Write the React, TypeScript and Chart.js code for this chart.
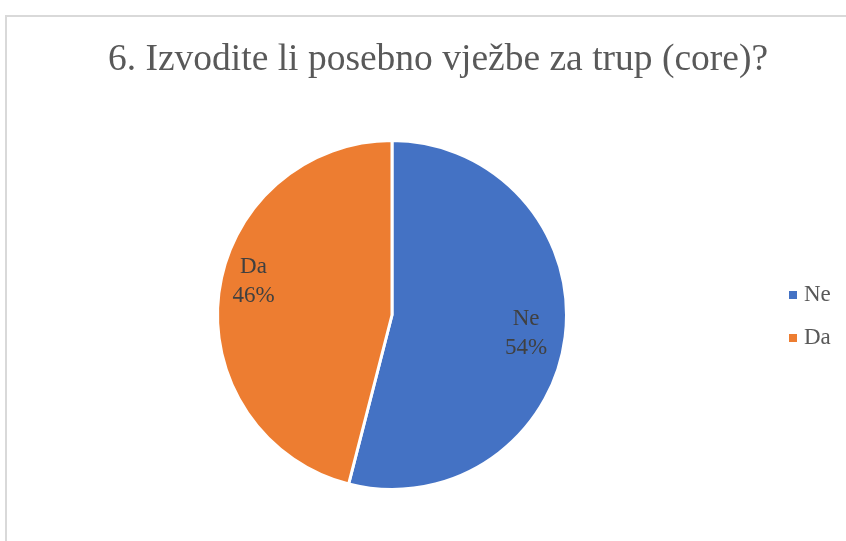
import React, { useEffect, useRef } from "react";
import { Chart, registerables } from "chart.js";

Chart.register(...registerables);

const title = "6. Izvodite li posebno vježbe za trup (core)?";
const categories = ["Ne", "Da"];
const values = [54, 46];
const colors = ["#4472C4", "#ED7D31"];
const labelRadius = [0.775, 0.8];
const labelDy = [0, -18];

const SERIF = "'Liberation Serif', 'Times New Roman', serif";

const overlayPlugin = {
  id: "overlay",
  afterDraw(chart: any) {
    const ctx = chart.ctx;
    const meta = chart.getDatasetMeta(0);
    const total = values.reduce((a, b) => a + b, 0);
    ctx.save();
    // title
    ctx.fillStyle = "#595959";
    ctx.font = `37.5px ${SERIF}`;
    ctx.textAlign = "center";
    ctx.textBaseline = "alphabetic";
    ctx.fillText(title, 438, 70);
    // data labels
    ctx.fillStyle = "#404040";
    ctx.font = `23px ${SERIF}`;
    meta.data.forEach((arc: any, i: number) => {
      const p = arc.getProps(["x", "y", "startAngle", "endAngle", "outerRadius"], true);
      const mid = (p.startAngle + p.endAngle) / 2;
      const r = p.outerRadius * labelRadius[i];
      const cx = p.x + Math.cos(mid) * r;
      const cy = p.y + Math.sin(mid) * r + labelDy[i];
      const pct = Math.round((values[i] / total) * 100) + "%";
      ctx.fillText(categories[i], cx, cy - 7);
      ctx.fillText(pct, cx, cy + 22);
    });
    // legend
    ctx.textAlign = "left";
    categories.forEach((c, i) => {
      const y = 301 + i * 43;
      ctx.fillStyle = colors[i];
      ctx.fillRect(789, y - 10, 8, 8);
      ctx.fillStyle = "#595959";
      ctx.fillText(c, 804, y);
    });
    ctx.restore();
  },
};

export default function App() {
  const ref = useRef<HTMLCanvasElement>(null);
  useEffect(() => {
    if (!ref.current) return;
    const chart = new Chart(ref.current, {
      type: "pie",
      data: {
        labels: categories,
        datasets: [
          {
            data: values,
            backgroundColor: colors,
            borderColor: "#ffffff",
            borderWidth: 3,
          },
        ],
      },
      options: {
        animation: false,
        responsive: false,
        maintainAspectRatio: false,
        layout: { padding: { left: 216, right: 278, top: 139, bottom: 50 } },
        plugins: {
          legend: { display: false },
          title: { display: false },
          tooltip: { enabled: false },
        },
      },
      plugins: [overlayPlugin],
    });
    return () => chart.destroy();
  }, []);
  return (
    <div
      style={{
        position: "fixed",
        left: 0,
        top: 0,
        width: 846,
        height: 541,
        overflow: "hidden",
        background: "#ffffff",
      }}
    >
      <div
        style={{
          position: "absolute",
          left: 5,
          top: 15,
          width: 900,
          height: 600,
          border: "2px solid #d9d9d9",
        }}
      />
      <canvas
        ref={ref}
        width={846}
        height={541}
        style={{ position: "absolute", left: 0, top: 0, width: 846, height: 541 }}
      />
    </div>
  );
}
